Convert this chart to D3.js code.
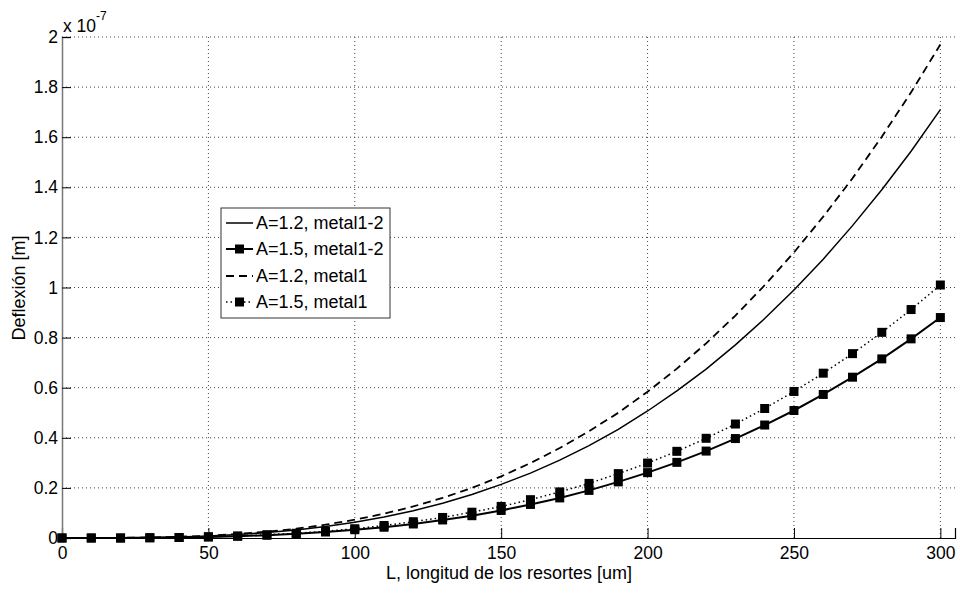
<!DOCTYPE html>
<html><head><meta charset="utf-8">
<script src="https://cdn.jsdelivr.net/npm/d3@7"></script>
<style>body{margin:0;background:#fff}svg{display:block;font-family:"Liberation Sans",Arial,sans-serif}</style>
</head><body>
<svg id="c" width="960" height="594"></svg>
<script>
// Data (deflexion in units of 1e-7 m)
const L = [0,10,20,30,40,50,60,70,80,90,100,110,120,130,140,150,160,170,180,190,200,210,220,230,240,250,260,270,280,290,300];
const a12_m12 = [0,0.000,0.001,0.002,0.004,0.008,0.014,0.022,0.032,0.046,0.063,0.084,0.109,0.139,0.174,0.214,0.259,0.311,0.369,0.434,0.507,0.587,0.674,0.771,0.876,0.990,1.113,1.247,1.390,1.544,1.710];
const a15_m12 = [0,0.000,0.000,0.001,0.002,0.004,0.007,0.011,0.017,0.024,0.033,0.043,0.056,0.072,0.089,0.110,0.134,0.160,0.190,0.224,0.261,0.302,0.347,0.397,0.451,0.509,0.573,0.642,0.715,0.795,0.880];
const a12_m1 = [0,0.000,0.001,0.002,0.005,0.009,0.016,0.025,0.037,0.053,0.073,0.097,0.126,0.160,0.200,0.246,0.299,0.359,0.426,0.500,0.584,0.676,0.777,0.888,1.009,1.140,1.283,1.436,1.602,1.779,1.970];
const a15_m1 = [0,0.000,0.000,0.001,0.002,0.005,0.008,0.013,0.019,0.027,0.037,0.050,0.065,0.082,0.103,0.126,0.153,0.184,0.218,0.257,0.299,0.346,0.398,0.455,0.517,0.585,0.658,0.736,0.821,0.912,1.010];
const seriesNames = ["A=1.2, metal1-2","A=1.5, metal1-2","A=1.2, metal1","A=1.5, metal1"];
const xTicks = [0,50,100,150,200,250,300];
const yTicks = [0,0.2,0.4,0.6,0.8,1,1.2,1.4,1.6,1.8,2];

const svg = d3.select("#c");
const x = d3.scaleLinear().domain([0,305]).range([62,955]);
const y = d3.scaleLinear().domain([0,2]).range([538,37]);

const series = [
  {name:seriesNames[0], v:a12_m12, w:1.5, dash:null, marker:false},
  {name:seriesNames[1], v:a15_m12, w:2, dash:null, marker:true},
  {name:seriesNames[2], v:a12_m1, w:1.8, dash:"8,5", marker:false},
  {name:seriesNames[3], v:a15_m1, w:1.5, dash:"1.5,3", marker:true}
];

// grid
const g = svg.append("g");
g.selectAll(".gx").data(xTicks.filter(d=>d>0)).join("line")
  .attr("x1",d=>x(d)).attr("x2",d=>x(d)).attr("y1",y(0)).attr("y2",y(2))
  .attr("stroke","#444").attr("stroke-width",1).attr("stroke-dasharray","1,3");
g.selectAll(".gy").data(yTicks.filter(d=>d>0)).join("line")
  .attr("x1",x(0)).attr("x2",x(305)).attr("y1",d=>y(d)).attr("y2",d=>y(d))
  .attr("stroke","#444").attr("stroke-width",1).attr("stroke-dasharray","1,3");

// axes
const xAxis = d3.axisBottom(x).tickValues(xTicks).tickSize(-10).tickPadding(12).tickFormat(d3.format("d"));
const yAxis = d3.axisLeft(y).tickValues(yTicks).tickSize(-9).tickPadding(4).tickFormat(d=>d===0?"0":(d===1?"1":(d===2?"2":d3.format(".1f")(d))));
const gx = svg.append("g").attr("transform",`translate(0,${y(0)})`).call(xAxis);
const gy = svg.append("g").attr("transform",`translate(${x(0)},0)`).call(yAxis);
[gx,gy].forEach(a=>{a.selectAll("text").attr("font-size",17.5).attr("fill","#000").attr("font-family","Liberation Sans, Arial, sans-serif");});
gx.select(".domain").attr("stroke","#000").attr("stroke-width",1.2);
gx.selectAll(".tick line").attr("stroke","#000");
gy.select(".domain").attr("stroke","#777").attr("stroke-width",1.5);
gy.selectAll(".tick line").attr("stroke","#000");
gx.selectAll("text").attr("dy","0.5em");

// lines
const line = v => d3.line().x((d,i)=>x(L[i])).y(d=>y(d))(v);
series.forEach(s=>{
  svg.append("path").attr("d",line(s.v)).attr("fill","none").attr("stroke","#000")
    .attr("stroke-width",s.w).attr("stroke-dasharray",s.dash);
  if(s.marker){
    svg.append("g").selectAll("rect").data(s.v).join("rect")
      .attr("x",(d,i)=>x(L[i])-4.5).attr("y",d=>y(d)-4.5).attr("width",9).attr("height",9).attr("fill","#000");
  }
});

// exponent label
const ex = svg.append("text").attr("x",63).attr("y",32).attr("font-size",17.5).attr("fill","#000");
ex.append("tspan").text("x 10");
ex.append("tspan").attr("font-size",12).attr("dy",-12).text("-7");

// axis titles
svg.append("text").attr("x",509).attr("y",579).attr("text-anchor","middle").attr("font-size",18).text("L, longitud de los resortes [um]");
svg.append("text").attr("transform","translate(25,288) rotate(-90)").attr("text-anchor","middle").attr("font-size",18).text("Deflexión [m]");

// legend
const lg = svg.append("g");
lg.append("rect").attr("x",221).attr("y",208).attr("width",169).attr("height",110).attr("fill","#fff").attr("stroke","#333").attr("stroke-width",1);
const ly = [223,249,276,302];
series.forEach((s,i)=>{
  lg.append("line").attr("x1",226).attr("x2",253).attr("y1",ly[i]).attr("y2",ly[i]).attr("stroke","#000")
    .attr("stroke-width",s.w).attr("stroke-dasharray",s.dash);
  if(s.marker) lg.append("rect").attr("x",239.5-4.5).attr("y",ly[i]-4.5).attr("width",9).attr("height",9).attr("fill","#000");
  lg.append("text").attr("x",256).attr("y",ly[i]).attr("dy","0.36em").attr("font-size",18).text(s.name);
});
</script>
</body></html>
